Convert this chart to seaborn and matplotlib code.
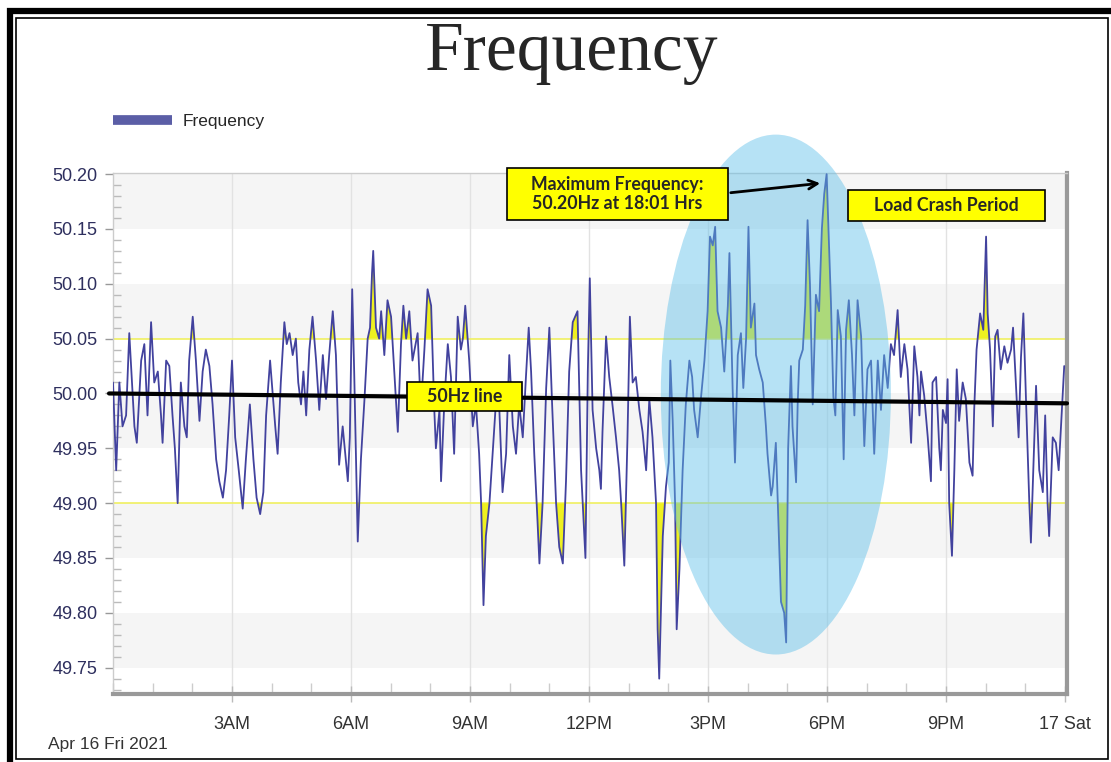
import numpy as np
import pandas as pd
import matplotlib
matplotlib.use("Agg")
import matplotlib.pyplot as plt
import seaborn as sns
from matplotlib.patches import Rectangle, Ellipse, FancyArrowPatch
from matplotlib.lines import Line2D
from matplotlib.ticker import MultipleLocator

# Frequency trace (hours after midnight, Hz)
hours = [
    0.00, 0.08, 0.16, 0.24, 0.33, 0.41, 0.54, 0.60, 0.71, 0.79, 0.87, 0.96,
    1.04, 1.13, 1.21, 1.25, 1.34, 1.42, 1.50, 1.56, 1.63, 1.71, 1.80, 1.86,
    1.92, 2.01, 2.09, 2.18, 2.26, 2.34, 2.43, 2.51, 2.60, 2.68, 2.77, 2.85,
    2.93, 3.00, 3.08, 3.17, 3.27, 3.35, 3.45, 3.54, 3.62, 3.71, 3.79, 3.86,
    3.96, 4.09, 4.15, 4.23, 4.32, 4.38, 4.45, 4.53, 4.61, 4.67, 4.74, 4.80,
    4.87, 4.95, 5.03, 5.12, 5.20, 5.29, 5.37, 5.45, 5.54, 5.62, 5.70, 5.79,
    5.92, 5.97, 6.03, 6.08, 6.17, 6.25, 6.34, 6.42, 6.48, 6.53, 6.56, 6.63,
    6.71, 6.76, 6.84, 6.92, 7.01, 7.09, 7.18, 7.26, 7.32, 7.39, 7.47, 7.55,
    7.68, 7.76, 7.85, 7.93, 8.02, 8.10, 8.14, 8.23, 8.27, 8.35, 8.44, 8.52,
    8.60, 8.69, 8.77, 8.82, 8.88, 8.98, 9.07, 9.15, 9.23, 9.28, 9.34, 9.40,
    9.49, 9.57, 9.65, 9.74, 9.82, 9.91, 9.99, 10.08, 10.16, 10.24, 10.33, 10.41,
    10.48, 10.54, 10.62, 10.70, 10.75, 10.83, 10.92, 11.00, 11.07, 11.17, 11.25, 11.34,
    11.42, 11.50, 11.59, 11.71, 11.80, 11.91, 11.97, 12.02, 12.09, 12.18, 12.26, 12.30,
    12.34, 12.43, 12.51, 12.59, 12.68, 12.76, 12.81, 12.89, 12.97, 13.03, 13.10, 13.18,
    13.27, 13.35, 13.44, 13.52, 13.60, 13.69, 13.73, 13.77, 13.86, 13.94, 14.01, 14.05,
    14.11, 14.17, 14.21, 14.28, 14.36, 14.44, 14.53, 14.60, 14.65, 14.74, 14.82, 14.91,
    14.99, 15.05, 15.12, 15.18, 15.24, 15.33, 15.41, 15.50, 15.54, 15.62, 15.68, 15.75,
    15.83, 15.89, 15.96, 16.02, 16.08, 16.17, 16.21, 16.29, 16.38, 16.46, 16.50, 16.59,
    16.63, 16.71, 16.76, 16.84, 16.92, 16.97, 17.02, 17.09, 17.13, 17.22, 17.26, 17.30,
    17.39, 17.45, 17.51, 17.57, 17.64, 17.72, 17.80, 17.87, 17.93, 17.99, 18.04, 18.10,
    18.16, 18.21, 18.27, 18.35, 18.42, 18.48, 18.55, 18.63, 18.69, 18.77, 18.86, 18.94,
    19.02, 19.11, 19.19, 19.28, 19.36, 19.44, 19.53, 19.61, 19.69, 19.78, 19.86, 19.95,
    20.03, 20.12, 20.20, 20.28, 20.33, 20.37, 20.45, 20.54, 20.58, 20.62, 20.66, 20.75,
    20.83, 20.87, 20.92, 21.00, 21.04, 21.08, 21.15, 21.21, 21.27, 21.33, 21.42, 21.50,
    21.59, 21.67, 21.71, 21.77, 21.86, 21.94, 22.01, 22.05, 22.11, 22.18, 22.24, 22.30,
    22.38, 22.47, 22.55, 22.64, 22.69, 22.76, 22.83, 22.89, 22.95, 23.02, 23.10, 23.14,
    23.20, 23.27, 23.35, 23.44, 23.50, 23.56, 23.60, 23.69, 23.77, 23.84, 23.92, 23.98,
]
freq = [
    50.010, 49.930, 50.010, 49.970, 49.980, 50.055, 49.970, 49.955, 50.030, 50.045, 49.980, 50.065,
    50.010, 50.020, 49.980, 49.955, 50.030, 50.025, 49.980, 49.950, 49.900, 50.010, 49.970, 49.960,
    50.030, 50.070, 50.030, 49.975, 50.020, 50.040, 50.025, 49.990, 49.940, 49.920, 49.905, 49.930,
    49.980, 50.030, 49.960, 49.930, 49.895, 49.940, 49.990, 49.940, 49.905, 49.890, 49.910, 49.980,
    50.030, 49.970, 49.945, 50.010, 50.065, 50.045, 50.055, 50.035, 50.050, 50.010, 49.990, 50.020,
    49.980, 50.040, 50.070, 50.030, 49.985, 50.035, 49.995, 50.035, 50.075, 50.035, 49.935, 49.970,
    49.920, 49.960, 50.095, 50.020, 49.865, 49.940, 49.995, 50.050, 50.060, 50.110, 50.130, 50.060,
    50.050, 50.075, 50.035, 50.085, 50.070, 50.020, 49.965, 50.045, 50.080, 50.050, 50.075, 50.030,
    50.055, 49.985, 50.040, 50.095, 50.080, 49.985, 49.950, 49.985, 49.920, 49.990, 50.045, 50.015,
    49.945, 50.070, 50.040, 50.050, 50.080, 50.030, 49.970, 49.990, 49.945, 49.900, 49.807, 49.870,
    49.900, 49.945, 49.990, 49.985, 49.910, 49.945, 50.035, 49.970, 49.945, 49.990, 49.960, 50.015,
    50.060, 50.020, 49.945, 49.885, 49.845, 49.900, 50.005, 50.060, 49.990, 49.900, 49.860, 49.845,
    49.920, 50.020, 50.065, 50.075, 49.930, 49.850, 50.020, 50.105, 49.985, 49.950, 49.930, 49.913,
    49.965, 50.052, 50.015, 49.990, 49.960, 49.930, 49.900, 49.843, 49.960, 50.070, 50.010, 50.015,
    49.985, 49.965, 49.930, 49.995, 49.960, 49.900, 49.785, 49.740, 49.870, 49.915, 49.937, 50.030,
    49.975, 49.900, 49.785, 49.840, 49.930, 49.990, 50.030, 50.015, 49.985, 49.960, 49.995, 50.030,
    50.075, 50.143, 50.135, 50.152, 50.075, 50.060, 50.020, 50.080, 50.128, 50.005, 49.937, 50.035,
    50.055, 50.005, 50.050, 50.152, 50.060, 50.082, 50.035, 50.022, 50.010, 49.970, 49.945, 49.907,
    49.915, 49.955, 49.900, 49.810, 49.800, 49.773, 49.950, 50.025, 49.970, 49.919, 49.990, 50.030,
    50.040, 50.080, 50.158, 50.100, 49.990, 50.090, 50.075, 50.150, 50.182, 50.200, 50.145, 50.082,
    49.997, 49.980, 50.076, 50.052, 49.940, 50.058, 50.085, 50.035, 49.980, 50.085, 50.052, 49.952,
    50.022, 50.030, 49.945, 50.030, 49.985, 50.035, 50.005, 50.045, 50.035, 50.076, 50.015, 50.045,
    50.022, 49.955, 50.043, 50.015, 49.980, 50.020, 49.998, 49.960, 49.940, 49.920, 50.010, 50.015,
    49.950, 49.930, 49.985, 49.973, 50.013, 49.900, 49.852, 49.930, 50.022, 49.975, 50.010, 49.995,
    49.937, 49.925, 49.985, 50.040, 50.073, 50.058, 50.143, 50.073, 50.040, 49.970, 50.052, 50.058,
    50.022, 50.043, 50.028, 50.040, 50.060, 50.010, 49.960, 50.033, 50.073, 49.990, 49.900, 49.864,
    49.930, 50.007, 49.930, 49.910, 49.980, 49.900, 49.870, 49.960, 49.955, 49.930, 49.985, 50.025,
]

tick_hours = [3, 6, 9, 12, 15, 18, 21, 24]
tick_labels = ["3AM", "6AM", "9AM", "12PM", "3PM", "6PM", "9PM", "17 Sat"]
y_ticks = [49.75, 49.80, 49.85, 49.90, 49.95, 50.00, 50.05, 50.10, 50.15, 50.20]
band_starts = [49.75, 49.85, 49.95, 50.05, 50.15]

upper_limit = 50.05
lower_limit = 49.90
line_50hz = [50.000, 49.991]   # the hand drawn "50Hz line", left and right end

df = pd.DataFrame({"hour": hours, "frequency": freq})

W, H = 1111, 762
sns.set_style("white")
plt.rcParams["font.family"] = ["Liberation Sans", "DejaVu Sans"]

fig = plt.figure(figsize=(W / 100, H / 100), dpi=100)
ax = fig.add_axes([113 / W, 1 - 694 / H, (1067 - 113) / W, (694 - 173) / H])

def fx(x):
    return x / W

def fy(y):
    return 1 - y / H

# alternating bands
for lo in band_starts:
    ax.axhspan(lo, lo + 0.05, color="#f5f5f5", lw=0, zorder=0)

ax.grid(axis="x", color="#e2e2e2", lw=1)
ax.set_axisbelow(True)

# limit lines and yellow excursions
ax.axhline(upper_limit, color="#f0f060", lw=1.2, zorder=1)
ax.axhline(lower_limit, color="#f0f060", lw=1.2, zorder=1)
fr = df["frequency"].to_numpy()
ax.fill_between(df["hour"], fr, upper_limit, where=fr > upper_limit,
                interpolate=True, color="#eef020", lw=0, zorder=2)
ax.fill_between(df["hour"], fr, lower_limit, where=fr < lower_limit,
                interpolate=True, color="#eef020", lw=0, zorder=2)

sns.lineplot(data=df, x="hour", y="frequency", ax=ax, color="#42429e",
             lw=1.3, zorder=3, estimator=None)

# load crash ellipse
ax.add_patch(Ellipse((16.71, 49.999), 5.80, 0.474, color="#5dbfe9",
                     alpha=0.45, lw=0, zorder=4, clip_on=False))

ax.plot([-0.1, 24.05], line_50hz, color="black", lw=3, zorder=5, clip_on=False)

ax.set_xlim(0, 24.05)
ax.set_ylim(49.726, 50.201)
ax.set_xticks(tick_hours, tick_labels)
ax.set_yticks(y_ticks, [f"{v:.2f}" for v in y_ticks])
ax.xaxis.set_minor_locator(MultipleLocator(1))
ax.yaxis.set_minor_locator(MultipleLocator(0.01))
ax.set_xlabel("")
ax.set_ylabel("")

ax.tick_params(axis="y", which="major", direction="out", length=6, width=1,
               color="#999999", labelsize=13, labelcolor="#2e2f5e", pad=5, left=True)
ax.tick_params(axis="y", which="minor", direction="in", length=6, width=1,
               color="#bbbbbb", left=True)
ax.tick_params(axis="x", which="major", direction="inout", length=12, width=1,
               color="#bbbbbb", labelsize=13, labelcolor="#333333", pad=10, bottom=True)
ax.tick_params(axis="x", which="minor", direction="in", length=8, width=1,
               color="#cccccc", bottom=True)

for side in ["left", "top"]:
    ax.spines[side].set_color("#cccccc")
    ax.spines[side].set_linewidth(1)
for side in ["bottom", "right"]:
    ax.spines[side].set_color("#999999")
    ax.spines[side].set_linewidth(3)

# legend
handle = Line2D([0], [0], color="#5b5ea6", lw=7, solid_capstyle="butt")
fig.legend(handles=[handle], labels=["Frequency"], loc="center left",
           bbox_to_anchor=(fx(113), fy(121)), frameon=False, fontsize=12.5,
           handlelength=3.4, handletextpad=0.6, borderpad=0, borderaxespad=0)

# title and date
fig.text(fx(572), fy(53), "Frequency", family="Liberation Serif", fontsize=50,
         ha="center", va="center")
fig.text(fx(48), fy(745), "Apr 16 Fri 2021", fontsize=12.5, color="#333333",
         ha="left", va="center")

# yellow callout boxes
boxes = [
    ((507, 168, 728, 220), "Maximum Frequency:\n50.20Hz at 18:01 Hrs"),
    ((848, 190, 1045, 221), "Load Crash Period"),
    ((407, 382, 522, 411), "50Hz line"),
]
for (x0, y0, x1, y1), label in boxes:
    fig.patches.append(Rectangle((fx(x0), fy(y1)), (x1 - x0) / W, (y1 - y0) / H,
                                 transform=fig.transFigure, facecolor="#ffff00",
                                 edgecolor="black", lw=1.2, zorder=5))
    fig.text(fx((x0 + x1) / 2), fy((y0 + y1) / 2), label, family="Lato",
             fontweight="bold", fontsize=12.8, ha="center", va="center",
             linespacing=1.2, zorder=6)

fig.patches.append(FancyArrowPatch((fx(728), fy(193)), (fx(823), fy(183)),
                                   transform=fig.transFigure, arrowstyle="->",
                                   mutation_scale=16, lw=2, color="black", zorder=6))

# frame
fig.patches.append(Rectangle((fx(10), fy(770)), (1120 - 10) / W, (770 - 11) / H,
                             transform=fig.transFigure, fill=False,
                             edgecolor="black", lw=4.5, zorder=7))
fig.patches.append(Rectangle((fx(15.5), fy(759)), (1108 - 15.5) / W, (759 - 17.5) / H,
                             transform=fig.transFigure, fill=False,
                             edgecolor="black", lw=1.2, zorder=7))

fig.savefig("out.png", dpi=100)
